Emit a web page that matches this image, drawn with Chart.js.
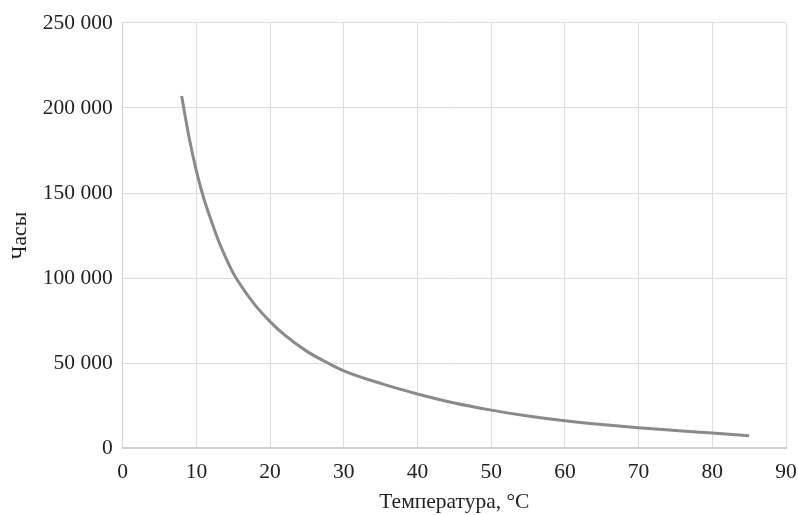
<!DOCTYPE html>
<html>
<head>
<meta charset="utf-8">
<script src="https://cdn.jsdelivr.net/npm/chart.js@4/dist/chart.umd.min.js"></script>
<style>
  html, body { margin: 0; padding: 0; background: #fff; }
  #wrap { width: 798px; height: 515px; }
</style>
</head>
<body>
<div id="wrap"><canvas id="grafico" width="798" height="515"></canvas></div>
<script>
// Temperatura (°C) e ore
const temperatura = [8, 9, 10, 11, 12, 13, 14, 15, 16, 18, 20, 22, 25, 28, 30, 35, 40, 45, 50, 55, 60, 65, 70, 75, 80, 85];
const ore = [207000, 183000, 163000, 147000, 134000, 122000, 112000, 103000, 96000, 84000, 74500, 66500, 57000, 49800, 45600, 38200, 32000, 26700, 22500, 19000, 16200, 14000, 12100, 10500, 9000, 7500];

const xTicks = [0, 10, 20, 30, 40, 50, 60, 70, 80, 90];
const yTicks = [0, 50000, 100000, 150000, 200000, 250000];

const font = { family: "'Liberation Serif', 'DejaVu Serif', serif", size: 21.5 };

function formatta(v) {
    return String(v).replace(/\B(?=(\d{3})+(?!\d))/g, " ");
}

const ctx = document.getElementById("grafico").getContext("2d");
new Chart(ctx, {
    type: 'scatter',
    data: {
        datasets: [{
            data: temperatura.map((t, i) => ({ x: t, y: ore[i] })),
            showLine: true,
            borderColor: '#8a8a8a',
            borderWidth: 3,
            pointRadius: 0,
            cubicInterpolationMode: 'monotone',
            fill: false
        }]
    },
    options: {
        responsive: false,
        animation: false,
        layout: { padding: { top: 16, right: 0, left: 3, bottom: 0 } },
        plugins: { legend: { display: false }, tooltip: { enabled: false } },
        scales: {
            x: {
                type: 'linear',
                min: 0, max: 90,
                afterBuildTicks: axis => { axis.ticks = xTicks.map(v => ({ value: v })); },
                afterFit: axis => { axis.paddingRight = 12; },
                ticks: { color: '#222', font: font, padding: 11, maxRotation: 0 },
                grid: { color: '#dcdcdc', lineWidth: 1, drawTicks: false },
                border: { color: '#cfcfcf', width: 2 },
                title: { display: true, text: 'Температура, °C', color: '#222', font: font, padding: { top: -7, bottom: 0 } }
            },
            y: {
                min: 0, max: 250000,
                afterBuildTicks: axis => { axis.ticks = yTicks.map(v => ({ value: v })); },
                ticks: { color: '#222', font: font, padding: 10, callback: v => formatta(v) },
                grid: { color: '#dcdcdc', lineWidth: 1, drawTicks: false },
                border: { color: '#d0d0d0', width: 1 },
                title: { display: true, text: 'Часы', color: '#222', font: font, padding: { top: 4, bottom: 0 } }
            }
        }
    }
});
</script>
</body>
</html>
